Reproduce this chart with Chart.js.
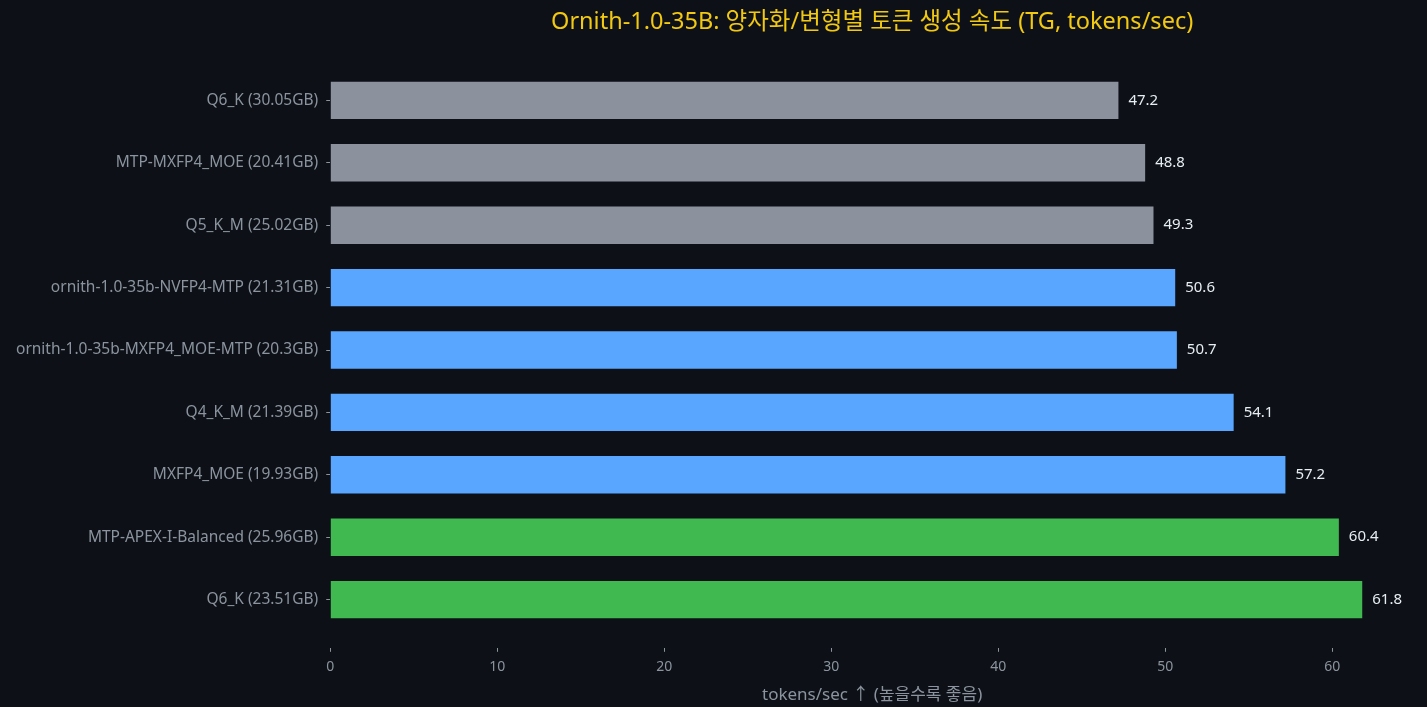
<!DOCTYPE html>
<html>
<head>
<meta charset="utf-8">
<script src="https://cdn.jsdelivr.net/npm/chart.js@4"></script>
<style>
  html, body { margin: 0; padding: 0; background: #0d1117; }
  #wrap { width: 1427px; height: 707px; }
</style>
</head>
<body>
<div id="wrap"><canvas id="myChart"></canvas></div>
<script>
var labels = [
  "Q6_K (30.05GB)",
  "MTP-MXFP4_MOE (20.41GB)",
  "Q5_K_M (25.02GB)",
  "ornith-1.0-35b-NVFP4-MTP (21.31GB)",
  "ornith-1.0-35b-MXFP4_MOE-MTP (20.3GB)",
  "Q4_K_M (21.39GB)",
  "MXFP4_MOE (19.93GB)",
  "MTP-APEX-I-Balanced (25.96GB)",
  "Q6_K (23.51GB)"
];
var tgValues = [47.2, 48.8, 49.3, 50.6, 50.7, 54.1, 57.2, 60.4, 61.8];
var groups = ["base", "base", "base", "mid", "mid", "mid", "mid", "top", "top"];
var xTicks = [0, 10, 20, 30, 40, 50, 60];

var groupColors = { base: "#8b929e", mid: "#58a6ff", top: "#3fb950" };
var fontFamily = "'Noto Sans', 'Noto Sans CJK KR', sans-serif";

var valueLabels = {
  id: "valueLabels",
  afterDatasetsDraw: function (chart) {
    var c = chart.ctx;
    var meta = chart.getDatasetMeta(0);
    c.save();
    c.fillStyle = "#e6edf3";
    c.font = "15px " + fontFamily;
    c.textAlign = "left";
    c.textBaseline = "middle";
    meta.data.forEach(function (bar, i) {
      c.fillText(tgValues[i].toFixed(1), bar.x + 10, bar.y);
    });
    c.restore();
  }
};

var ctx = document.getElementById("myChart");
var myChart = new Chart(ctx, {
  type: "bar",
  data: {
    labels: labels,
    datasets: [
      {
        label: "TG",
        data: tgValues,
        backgroundColor: groups.map(function (g) { return groupColors[g]; }),
        borderWidth: 0,
        categoryPercentage: 1.0,
        barPercentage: 0.6
      }
    ]
  },
  options: {
    indexAxis: "y",
    responsive: true,
    maintainAspectRatio: false,
    animation: false,
    layout: { padding: { left: 8, right: 13, top: 8, bottom: 2 } },
    plugins: {
      legend: { display: false },
      tooltip: { enabled: false },
      title: {
        display: true,
        fullSize: false,
        text: "Ornith-1.0-35B: 양자화/변형별 토큰 생성 속도 (TG, tokens/sec)",
        color: "#f2c811",
        font: { family: fontFamily, size: 23.5, weight: "normal" },
        padding: { top: 0, bottom: 33 }
      }
    },
    scales: {
      x: {
        min: 0,
        max: 64.9,
        afterBuildTicks: function (axis) {
          axis.ticks = xTicks.map(function (v) { return { value: v }; });
        },
        border: { display: false },
        grid: {
          drawOnChartArea: false,
          color: "#8b949e",
          tickLength: 21,
          tickBorderDash: [0, 17, 4, 100],
          offset: false
        },
        ticks: { color: "#8b949e", font: { family: fontFamily, size: 14 }, padding: 7 },
        title: {
          display: true,
          text: "tokens/sec ↑ (높을수록 좋음)",
          color: "#8b949e",
          font: { family: fontFamily, size: 17 },
          padding: { top: 2, bottom: 0 }
        }
      },
      y: {
        border: { display: false },
        grid: { drawOnChartArea: false, color: "#8b949e", tickLength: 4, offset: false },
        ticks: { color: "#8b949e", font: { family: fontFamily, size: 15.5 }, padding: 8 }
      }
    }
  },
  plugins: [valueLabels]
});
</script>
</body>
</html>
